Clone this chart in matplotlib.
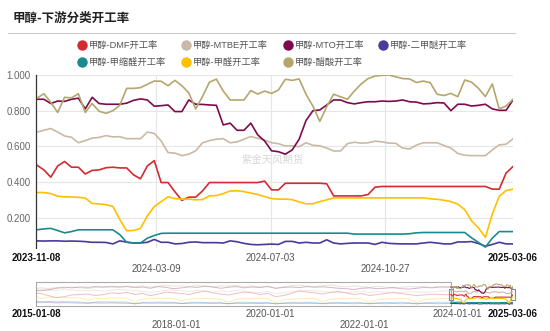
import numpy as np
import pandas as pd
import matplotlib
matplotlib.use("Agg")
import matplotlib.pyplot as plt
import matplotlib.dates as mdates
from matplotlib.patches import Rectangle

plt.rcParams['font.family'] = ['Liberation Sans', 'Noto Sans CJK SC']

# ================================
# DATA
# ================================
names = ['甲醇-DMF开工率', '甲醇-MTBE开工率', '甲醇-MTO开工率', '甲醇-二甲醚开工率',
         '甲醇-甲缩醛开工率', '甲醇-甲醛开工率', '甲醇-醋酸开工率']
colors = ['#d42a30', '#c9b9a6', '#7b0b4c', '#4a3a9a', '#1b8a8f', '#ffc000', '#b5a66e']

# weekly points shown in the main window
dates = pd.date_range(end='2025-03-06', periods=70, freq='7D')

dmf = [0.494, 0.468, 0.427, 0.49, 0.515, 0.483, 0.483, 0.445, 0.465, 0.468,
       0.48, 0.483, 0.479, 0.479, 0.44, 0.418, 0.49, 0.52, 0.397, 0.397,
       0.345, 0.297, 0.315, 0.315, 0.35, 0.397, 0.397, 0.397, 0.397, 0.397,
       0.397, 0.397, 0.397, 0.405, 0.356, 0.356, 0.393, 0.393, 0.393, 0.393,
       0.393, 0.393, 0.39, 0.322, 0.322, 0.322, 0.322, 0.322, 0.33, 0.371,
       0.375, 0.375, 0.375, 0.375, 0.375, 0.375, 0.375, 0.375, 0.375, 0.375,
       0.375, 0.375, 0.375, 0.375, 0.375, 0.375, 0.36, 0.36, 0.45, 0.487]
mtbe = [0.68, 0.69, 0.70, 0.68, 0.658, 0.651, 0.62, 0.632, 0.646, 0.65,
        0.66, 0.653, 0.654, 0.643, 0.643, 0.643, 0.68, 0.673, 0.63, 0.565,
        0.562, 0.548, 0.556, 0.575, 0.62, 0.632, 0.64, 0.643, 0.62, 0.625,
        0.64, 0.655, 0.645, 0.635, 0.62, 0.615, 0.602, 0.603, 0.598, 0.62,
        0.606, 0.603, 0.59, 0.574, 0.574, 0.615, 0.623, 0.618, 0.62, 0.629,
        0.625, 0.618, 0.617, 0.59, 0.585, 0.607, 0.62, 0.62, 0.62, 0.605,
        0.59, 0.56, 0.55, 0.548, 0.548, 0.548, 0.58, 0.608, 0.612, 0.642]
mto = [0.864, 0.864, 0.84, 0.854, 0.852, 0.864, 0.87, 0.81, 0.875, 0.84,
       0.836, 0.836, 0.836, 0.842, 0.858, 0.866, 0.86, 0.825, 0.828, 0.832,
       0.795, 0.795, 0.86, 0.836, 0.835, 0.832, 0.83, 0.72, 0.73, 0.69,
       0.69, 0.73, 0.664, 0.63, 0.575, 0.57, 0.556, 0.58, 0.64, 0.745,
       0.80, 0.804, 0.832, 0.86, 0.86, 0.845, 0.838, 0.845, 0.85, 0.85,
       0.854, 0.852, 0.854, 0.86, 0.85, 0.848, 0.838, 0.84, 0.845, 0.843,
       0.80, 0.836, 0.836, 0.826, 0.83, 0.836, 0.81, 0.802, 0.802, 0.86]
dme = [0.07, 0.069, 0.07, 0.07, 0.068, 0.069, 0.068, 0.066, 0.062, 0.062,
       0.061, 0.053, 0.07, 0.063, 0.058, 0.058, 0.062, 0.078, 0.062, 0.062,
       0.053, 0.055, 0.062, 0.064, 0.06, 0.06, 0.06, 0.058, 0.07, 0.065,
       0.056, 0.05, 0.048, 0.05, 0.052, 0.05, 0.067, 0.067, 0.058, 0.062,
       0.058, 0.058, 0.076, 0.058, 0.053, 0.056, 0.058, 0.058, 0.058, 0.05,
       0.062, 0.056, 0.054, 0.053, 0.053, 0.053, 0.058, 0.062, 0.058, 0.053,
       0.053, 0.064, 0.064, 0.066, 0.055, 0.04, 0.05, 0.062, 0.053, 0.053]
dmm = [0.132, 0.137, 0.14, 0.128, 0.115, 0.122, 0.132, 0.132, 0.132, 0.132,
       0.132, 0.132, 0.105, 0.062, 0.058, 0.058, 0.085, 0.10, 0.112, 0.113,
       0.113, 0.113, 0.113, 0.113, 0.113, 0.113, 0.113, 0.113, 0.113, 0.113,
       0.113, 0.113, 0.113, 0.113, 0.113, 0.113, 0.113, 0.113, 0.113, 0.113,
       0.113, 0.113, 0.113, 0.113, 0.113, 0.113, 0.108, 0.108, 0.108, 0.108,
       0.108, 0.108, 0.108, 0.108, 0.11, 0.115, 0.117, 0.117, 0.117, 0.117,
       0.117, 0.117, 0.117, 0.087, 0.061, 0.035, 0.085, 0.122, 0.122, 0.122]
hcho = [0.341, 0.341, 0.335, 0.32, 0.317, 0.316, 0.314, 0.31, 0.28, 0.277,
        0.273, 0.263, 0.19, 0.127, 0.128, 0.14, 0.21, 0.262, 0.29, 0.317,
        0.307, 0.304, 0.304, 0.30, 0.302, 0.322, 0.324, 0.335, 0.35, 0.351,
        0.346, 0.338, 0.33, 0.318, 0.307, 0.304, 0.304, 0.301, 0.288, 0.278,
        0.278, 0.29, 0.30, 0.311, 0.311, 0.311, 0.311, 0.311, 0.311, 0.311,
        0.311, 0.311, 0.311, 0.311, 0.311, 0.311, 0.311, 0.306, 0.303, 0.298,
        0.29, 0.276, 0.245, 0.182, 0.142, 0.09, 0.22, 0.32, 0.352, 0.36]
hac = [0.87, 0.895, 0.847, 0.79, 0.875, 0.872, 0.895, 0.79, 0.84, 0.797,
       0.785, 0.80, 0.83, 0.925, 0.925, 0.929, 0.948, 0.966, 0.965, 0.94,
       0.97, 0.94, 0.90, 0.81, 0.88, 0.96, 0.977, 0.91, 0.86, 0.86,
       0.86, 0.913, 0.893, 0.91, 0.897, 0.916, 0.976, 0.97, 0.978, 0.892,
       0.825, 0.74, 0.823, 0.892, 0.878, 0.864, 0.91, 0.95, 0.98, 0.994,
       0.998, 1.0, 0.99, 0.98, 0.978, 0.958, 0.966, 0.957, 0.892, 0.885,
       0.897, 0.878, 0.972, 0.96, 0.925, 0.879, 0.95, 0.81, 0.826, 0.864]

# coarse history for the zoom slider (2015-01 .. 2023-10)
hist_dates = [pd.Timestamp('2015-01-08')] + [
    pd.Timestamp(f'{y}-{m:02d}-15') for y in range(2015, 2024)
    for m in (2, 4, 6, 8, 10, 12) if not (y == 2023 and m == 12)]

h_dmf = [0.57, 0.55, 0.45, 0.35, 0.40, 0.48, 0.50,
         0.52, 0.45, 0.50, 0.58, 0.55, 0.60,
         0.50, 0.55, 0.45, 0.52, 0.62, 0.58,
         0.55, 0.50, 0.60, 0.66, 0.58, 0.52,
         0.48, 0.55, 0.62, 0.58, 0.50, 0.55,
         0.40, 0.45, 0.55, 0.68, 0.62, 0.58,
         0.52, 0.60, 0.65, 0.58, 0.50, 0.55,
         0.45, 0.50, 0.55, 0.60, 0.55, 0.50,
         0.45, 0.48, 0.52, 0.50, 0.49]
h_mtbe = [0.78, 0.75, 0.72, 0.70, 0.74, 0.72, 0.70,
          0.68, 0.72, 0.66, 0.70, 0.74, 0.72,
          0.70, 0.66, 0.60, 0.64, 0.70, 0.72,
          0.68, 0.64, 0.70, 0.66, 0.62, 0.68,
          0.65, 0.70, 0.66, 0.62, 0.60, 0.64,
          0.55, 0.58, 0.64, 0.66, 0.70, 0.68,
          0.64, 0.62, 0.60, 0.58, 0.62, 0.66,
          0.60, 0.64, 0.62, 0.58, 0.60, 0.63,
          0.62, 0.60, 0.64, 0.66, 0.68]
h_mto = [0.70, 0.68, 0.72, 0.80, 0.85, 0.82, 0.86,
         0.84, 0.88, 0.85, 0.90, 0.86, 0.88,
         0.83, 0.86, 0.80, 0.88, 0.84, 0.78,
         0.82, 0.87, 0.84, 0.90, 0.86, 0.80,
         0.85, 0.88, 0.82, 0.86, 0.84, 0.88,
         0.80, 0.84, 0.86, 0.83, 0.88, 0.85,
         0.87, 0.84, 0.80, 0.78, 0.74, 0.80,
         0.82, 0.78, 0.80, 0.84, 0.78, 0.76,
         0.80, 0.84, 0.82, 0.86, 0.85]
h_dme = [0.12, 0.11, 0.12, 0.10, 0.11, 0.10, 0.09,
         0.08, 0.10, 0.09, 0.10, 0.09, 0.08,
         0.07, 0.09, 0.08, 0.09, 0.08, 0.09,
         0.07, 0.08, 0.09, 0.08, 0.07, 0.08,
         0.06, 0.08, 0.07, 0.08, 0.07, 0.08,
         0.06, 0.07, 0.08, 0.07, 0.08, 0.07,
         0.06, 0.07, 0.08, 0.07, 0.06, 0.07,
         0.06, 0.07, 0.06, 0.07, 0.06, 0.07,
         0.06, 0.07, 0.07, 0.06, 0.07]
h_dmm = [0.18, 0.16, 0.17, 0.15, 0.16, 0.15, 0.14,
         0.10, 0.14, 0.15, 0.14, 0.13, 0.14,
         0.04, 0.12, 0.13, 0.14, 0.13, 0.12,
         0.08, 0.12, 0.13, 0.12, 0.13, 0.12,
         0.06, 0.12, 0.13, 0.12, 0.11, 0.12,
         0.05, 0.10, 0.12, 0.13, 0.12, 0.12,
         0.07, 0.12, 0.12, 0.11, 0.12, 0.12,
         0.06, 0.11, 0.12, 0.12, 0.13, 0.12,
         0.05, 0.11, 0.12, 0.13, 0.13]
h_hcho = [0.45, 0.30, 0.38, 0.36, 0.34, 0.35, 0.33,
          0.22, 0.32, 0.30, 0.33, 0.34, 0.32,
          0.12, 0.28, 0.30, 0.31, 0.33, 0.30,
          0.20, 0.29, 0.30, 0.31, 0.30, 0.28,
          0.12, 0.28, 0.30, 0.29, 0.31, 0.30,
          0.10, 0.24, 0.28, 0.30, 0.31, 0.30,
          0.14, 0.28, 0.30, 0.29, 0.30, 0.29,
          0.12, 0.26, 0.28, 0.30, 0.31, 0.30,
          0.10, 0.26, 0.28, 0.30, 0.32]
h_hac = [0.80, 0.82, 0.78, 0.84, 0.80, 0.86, 0.82,
         0.78, 0.84, 0.88, 0.82, 0.86, 0.90,
         0.88, 0.92, 0.86, 0.90, 0.94, 0.90,
         0.92, 0.88, 0.94, 0.90, 0.86, 0.92,
         0.90, 0.94, 0.88, 0.92, 0.86, 0.90,
         0.80, 0.86, 0.92, 0.95, 0.90, 0.88,
         0.92, 0.96, 0.90, 0.86, 0.92, 0.88,
         0.84, 0.90, 0.86, 0.80, 0.84, 0.88,
         0.86, 0.90, 0.84, 0.88, 0.90]

series = [dmf, mtbe, mto, dme, dmm, hcho, hac]
history = [h_dmf, h_mtbe, h_mto, h_dme, h_dmm, h_hcho, h_hac]

main_ticks = ['2023-11-08', '2024-03-09', '2024-07-03', '2024-10-27', '2025-03-06']
slider_ticks = ['2015-01-08', '2018-01-01', '2020-01-01', '2022-01-01', '2024-01-01', '2025-03-06']
yticks = [0.2, 0.4, 0.6, 0.8, 1.0]

# ================================
# FIGURE / OVERLAY (pixel coords)
# ================================
fig = plt.figure(figsize=(5.5, 3.31), dpi=100)
ax0 = fig.add_axes([0, 0, 1, 1])
ax0.set_xlim(0, 550)
ax0.set_ylim(331, 0)
ax0.axis('off')

ax0.text(13, 18, '甲醇-下游分类开工率', fontsize=9, fontweight='bold', color='#222222',
         ha='left', va='center', family=['Noto Sans CJK SC'])
ax0.plot([8, 515], [32.5, 32.5], color='#cccccc', lw=0.8)

leg_pos = [(82, 45), (186, 45), (288, 45), (383, 45), (82, 62), (186, 62), (288, 62)]
for (lx, ly), name, c in zip(leg_pos, names, colors):
    ax0.plot(lx, ly, 'o', ms=7.5, color=c, mec='none')
    ax0.text(lx + 7, ly, name, fontsize=6.7, color='#555555', ha='left', va='center')

ax0.text(273, 160, '紫金天风期货', fontsize=7.5, color='#d8d8d8', ha='center', va='center')

# ================================
# MAIN CHART
# ================================
ax = fig.add_axes([36 / 550, 1 - 248 / 331, 477 / 550, 173 / 331])
ax.set_facecolor('none')
for s, c in zip(series, colors):
    ax.plot(dates, s, color=c, lw=1.2)

ax.set_xlim(pd.Timestamp(main_ticks[0]), pd.Timestamp(main_ticks[-1]))
ax.set_ylim(0.03, 1.0)
ax.set_yticks(yticks)
ax.set_yticklabels([f'{v:.3f}' for v in yticks])
ax.grid(axis='y', color='#e6e6e6', lw=0.8)
ax.set_axisbelow(True)
for d in main_ticks[1:-1]:
    ax.axvline(pd.Timestamp(d), color='#e6e6e6', lw=0.8, zorder=0)

for sp in ['top', 'right', 'bottom']:
    ax.spines[sp].set_visible(False)
ax.spines['left'].set_color('#333333')
ax.spines['left'].set_linewidth(0.9)

ax.set_xticks([pd.Timestamp(d) for d in main_ticks])
ax.set_xticklabels([('\n' + d) if i % 2 == 1 else d for i, d in enumerate(main_ticks)])
ax.tick_params(axis='y', length=0, pad=4, labelsize=7, labelcolor='#666666')
ax.tick_params(axis='x', length=0, pad=3.5, labelsize=7, labelcolor='#555555')
for i in (0, -1):
    lbl = ax.get_xticklabels()[i]
    lbl.set_fontweight('bold')
    lbl.set_color('#111111')

# ================================
# ZOOM SLIDER
# ================================
ax_s = fig.add_axes([36 / 550, 1 - 306 / 331, 477 / 550, 24 / 331])
ax_s.set_facecolor('none')
for s, h, c in zip(series, history, colors):
    ax_s.plot(hist_dates + [dates[0]], h + [s[0]], color=c, lw=0.7, alpha=0.3)
    ax_s.plot(dates, s, color=c, lw=0.8)

x_start = pd.Timestamp(slider_ticks[0])
x_end = pd.Timestamp(slider_ticks[-1])
ax_s.set_xlim(x_start, x_end)
ax_s.set_ylim(-0.05, 1.1)
x0 = mdates.date2num(x_start)
x1 = mdates.date2num(pd.Timestamp(main_ticks[0]))
ax_s.add_patch(Rectangle((x0, -0.05), x1 - x0, 1.15, fill=False, ec='#aaaaaa', lw=0.8, clip_on=False))
for sp in ax_s.spines.values():
    sp.set_visible(False)
ax_s.set_yticks([])
ax_s.set_xticks([pd.Timestamp(d) for d in slider_ticks])
ax_s.set_xticklabels([('\n' + d) if d in ('2018-01-01', '2022-01-01') else d for d in slider_ticks])
ax_s.tick_params(axis='x', length=0, pad=2, labelsize=7, labelcolor='#555555')
for i in (0, -1):
    lbl = ax_s.get_xticklabels()[i]
    lbl.set_fontweight('bold')
    lbl.set_color('#111111')

# slider handles
for hx in (451, 513):
    ax0.add_patch(Rectangle((hx - 2, 288.5), 4, 11, fc='white', ec='#888888', lw=0.8, zorder=5))

fig.savefig('out.png', dpi=100)
